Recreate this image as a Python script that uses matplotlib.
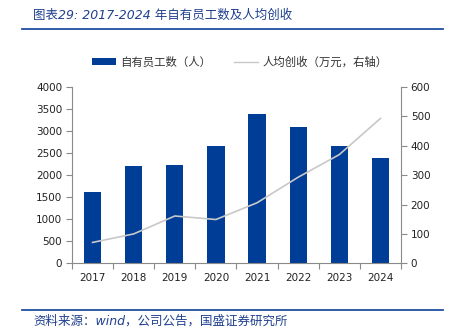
import matplotlib
matplotlib.use("Agg")
import matplotlib.pyplot as plt
from matplotlib.lines import Line2D
from matplotlib.patches import Patch
import numpy as np

plt.rcParams['font.family'] = ['DejaVu Sans', 'Noto Sans CJK SC']

years = ['2017', '2018', '2019', '2020', '2021', '2022', '2023', '2024']
employees = [1616, 2212, 2226, 2670, 3386, 3092, 2655, 2400]
revenue_per_capita = [71, 100, 161, 149, 206, 293, 370, 493]

title_text = '图表29: 2017-2024 年自有员工数及人均创收'
source_text = '资料来源：wind，公司公告，国盛证券研究所'
bar_label = '自有员工数（人）'
line_label = '人均创收（万元，右轴）'

W, H = 452, 334
fig = plt.figure(figsize=(W / 100, H / 100), dpi=100)

ax = fig.add_axes([72 / W, 1 - 263.3 / H, 329 / W, 176.3 / H])
ax2 = ax.twinx()

x = np.arange(len(years))
bar_color = '#003d96'
ax.bar(x, employees, width=0.42, color=bar_color, zorder=2)
ax2.plot(x, revenue_per_capita, color='#c8c8c8', lw=1.2, zorder=3)

ax.set_xlim(-0.5, len(years) - 0.5)
ax.set_ylim(0, 4000)
ax2.set_ylim(0, 600)
ax.set_yticks(np.arange(0, 4001, 500))
ax2.set_yticks(np.arange(0, 601, 100))

spine_c = '#8a8a8a'
for a in (ax, ax2):
    a.spines['top'].set_visible(False)
    for s in ('left', 'right', 'bottom'):
        a.spines[s].set_color(spine_c)
        a.spines[s].set_linewidth(0.8)
ax.spines['right'].set_visible(False)
ax2.spines['left'].set_visible(False)
ax2.spines['bottom'].set_visible(False)

ax.tick_params(axis='y', direction='out', length=4, width=0.8, color=spine_c,
               labelsize=7.5, pad=3, labelcolor='#222222')
ax2.tick_params(axis='y', direction='out', length=4, width=0.8, color=spine_c,
                labelsize=7.5, pad=3, labelcolor='#222222')

# category labels centered, boundary ticks
ax.set_xticks(np.arange(-0.5, len(years), 1.0))
ax.set_xticklabels([])
ax.tick_params(axis='x', which='major', direction='out', length=4, width=0.8, color=spine_c)
ax.set_xticks(x, minor=True)
ax.set_xticklabels(years, minor=True)
ax.tick_params(axis='x', which='minor', length=0, labelsize=7.5, pad=7, labelcolor='#222222')

# legend
handles = [Patch(facecolor=bar_color, edgecolor='none'),
           Line2D([0], [0], color='#c8c8c8', lw=1.0)]
fig.legend(handles, [bar_label, line_label], loc='center',
           bbox_to_anchor=(240 / W, 1 - 62 / H), ncol=2, frameon=False,
           handlelength=2.1, handleheight=0.6, columnspacing=2.0,
           handletextpad=0.4, labelcolor='#333333',
           prop={'family': ['Noto Sans CJK SC'], 'size': 8.2})

# title and source
title_color = '#1f3f8f'
fig.text(33 / W, 1 - 15 / H, title_text, fontsize=9, style='italic',
         color=title_color, va='center', ha='left')
fig.add_artist(Line2D([22 / W, 443 / W], [1 - 29 / H, 1 - 29 / H], color='#1f4ea0', lw=1.3))
fig.add_artist(Line2D([22 / W, 443 / W], [1 - 310 / H, 1 - 310 / H], color='#1f4ea0', lw=1.3))
fig.text(33 / W, 1 - 321 / H, source_text, fontsize=9, style='italic',
         color=title_color, va='center', ha='left')

fig.savefig('out.png', dpi=100)
